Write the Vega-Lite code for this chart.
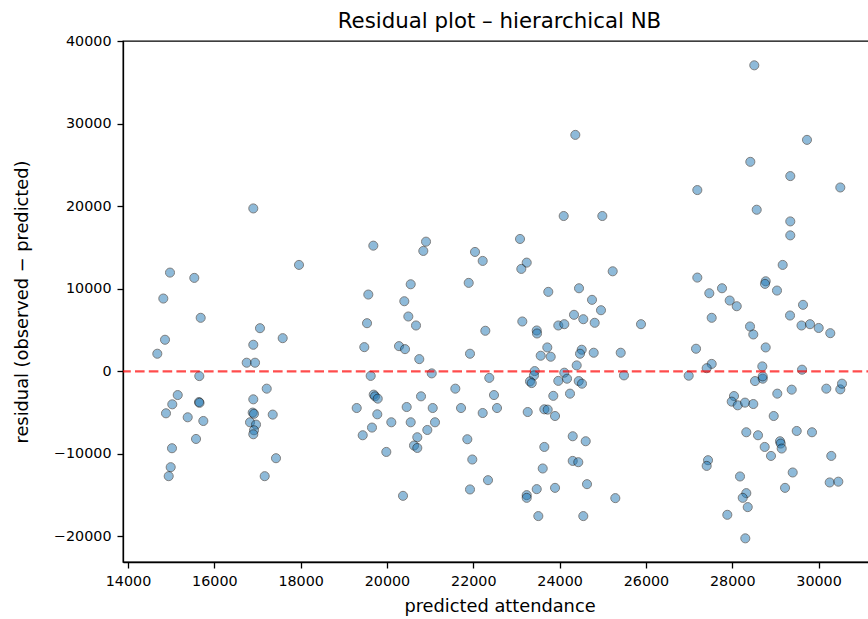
{
"$schema": "https://vega.github.io/schema/vega-lite/v6.json",
"autosize": {"type": "none"},
"padding": {"left": 123, "top": 41, "right": 0, "bottom": 57},
"width": 753,
"height": 521,
"title": {"text": "Residual plot – hierarchical NB"},
"datasets": {
"pts": [
{"predicted":16903,"residual":19759},{"predicted":14973,"residual":11979},{"predicted":15536,"residual":11338},{"predicted":17962,"residual":12911},{"predicted":14818,"residual":8833},{"predicted":15684,"residual":6498},{"predicted":17058,"residual":5239},{"predicted":14857,"residual":3836},{"predicted":17584,"residual":4029},{"predicted":16903,"residual":3231},{"predicted":14679,"residual":2142},{"predicted":16750,"residual":1053},{"predicted":16943,"residual":1053},{"predicted":15652,"residual":-569},{"predicted":17214,"residual":-2093},{"predicted":15152,"residual":-2868},{"predicted":16903,"residual":-3388},{"predicted":15026,"residual":-3993},{"predicted":15645,"residual":-3715},{"predicted":15657,"residual":-3812},{"predicted":14880,"residual":-5082},{"predicted":15383,"residual":-5566},{"predicted":15745,"residual":-6014},{"predicted":16889,"residual":-4997},{"predicted":16919,"residual":-5143},{"predicted":17353,"residual":-5239},{"predicted":16827,"residual":-6171},{"predicted":16966,"residual":-6449},{"predicted":16919,"residual":-7139},{"predicted":16903,"residual":-7623},{"predicted":15576,"residual":-8192},{"predicted":15019,"residual":-9317},{"predicted":17429,"residual":-10527},{"predicted":14989,"residual":-11616},{"predicted":14943,"residual":-12705},{"predicted":17167,"residual":-12705},
{"predicted":19684,"residual":15246},{"predicted":20905,"residual":15730},{"predicted":20842,"residual":14605},{"predicted":22040,"residual":14484},{"predicted":22218,"residual":13395},{"predicted":20550,"residual":10563},{"predicted":19568,"residual":9317},{"predicted":21894,"residual":10733},{"predicted":20402,"residual":8506},{"predicted":20495,"residual":6655},{"predicted":20673,"residual":5566},{"predicted":19538,"residual":5844},{"predicted":22279,"residual":4925},{"predicted":19475,"residual":2940},{"predicted":20279,"residual":3061},{"predicted":20418,"residual":2698},{"predicted":21924,"residual":2142},{"predicted":20749,"residual":1488},{"predicted":19623,"residual":-545},{"predicted":21037,"residual":-242},{"predicted":22371,"residual":-787},{"predicted":21584,"residual":-2093},{"predicted":22480,"residual":-2868},{"predicted":19693,"residual":-2819},{"predicted":19723,"residual":-3025},{"predicted":19786,"residual":-3303},{"predicted":20789,"residual":-3025},{"predicted":19299,"residual":-4441},{"predicted":20457,"residual":-4320},{"predicted":21060,"residual":-4441},{"predicted":21716,"residual":-4441},{"predicted":22218,"residual":-5046},{"predicted":22550,"residual":-4441},{"predicted":19776,"residual":-5203},{"predicted":20101,"residual":-6171},{"predicted":20550,"residual":-6171},{"predicted":21113,"residual":-6171},{"predicted":19653,"residual":-6812},{"predicted":20935,"residual":-7103},{"predicted":19438,"residual":-7744},{"predicted":20703,"residual":-7986},{"predicted":20627,"residual":-8990},{"predicted":20703,"residual":-9281},{"predicted":19985,"residual":-9765},{"predicted":21862,"residual":-8228},{"predicted":21977,"residual":-10684},{"predicted":22341,"residual":-13189},{"predicted":21924,"residual":-14314},{"predicted":20372,"residual":-15089},
{"predicted":24364,"residual":28677},{"predicted":24095,"residual":18840},{"predicted":24990,"residual":18840},{"predicted":23083,"residual":16057},{"predicted":23238,"residual":13189},{"predicted":23113,"residual":12427},{"predicted":25230,"residual":12136},{"predicted":23738,"residual":9644},{"predicted":24450,"residual":10079},{"predicted":24751,"residual":8676},{"predicted":24959,"residual":7417},{"predicted":23136,"residual":6050},{"predicted":24334,"residual":6861},{"predicted":24549,"residual":6328},{"predicted":24813,"residual":5893},{"predicted":23970,"residual":5566},{"predicted":24109,"residual":5723},{"predicted":25886,"residual":5723},{"predicted":23470,"residual":4961},{"predicted":23477,"residual":4598},{"predicted":23715,"residual":2904},{"predicted":23562,"residual":1900},{"predicted":23794,"residual":1779},{"predicted":24512,"residual":2626},{"predicted":24473,"residual":2142},{"predicted":24790,"residual":2263},{"predicted":25416,"residual":2263},{"predicted":27161,"residual":2747},{"predicted":24396,"residual":726},{"predicted":23423,"residual":36},{"predicted":23407,"residual":-484},{"predicted":23314,"residual":-1210},{"predicted":23354,"residual":-1416},{"predicted":24109,"residual":-157},{"predicted":24172,"residual":-883},{"predicted":23970,"residual":-1150},{"predicted":24443,"residual":-1174},{"predicted":24519,"residual":-1488},{"predicted":25492,"residual":-484},{"predicted":26991,"residual":-520},{"predicted":23854,"residual":-2965},{"predicted":24241,"residual":-2698},{"predicted":23261,"residual":-4925},{"predicted":23646,"residual":-4598},{"predicted":23724,"residual":-4634},{"predicted":23894,"residual":-5409},{"predicted":24304,"residual":-7865},{"predicted":24605,"residual":-8470},{"predicted":23646,"residual":-9160},{"predicted":24304,"residual":-10854},{"predicted":24433,"residual":-11011},{"predicted":23609,"residual":-11773},{"predicted":23470,"residual":-14278},{"predicted":23894,"residual":-14121},{"predicted":24635,"residual":-13673},{"predicted":25291,"residual":-15367},{"predicted":23238,"residual":-15004},{"predicted":23238,"residual":-15331},{"predicted":23507,"residual":-17545},{"predicted":24549,"residual":-17545},
{"predicted":27191,"residual":21986},{"predicted":27191,"residual":11374},{"predicted":28511,"residual":37111},{"predicted":29732,"residual":28072},{"predicted":28419,"residual":25410},{"predicted":29345,"residual":23680},{"predicted":30504,"residual":22300},{"predicted":28567,"residual":19602},{"predicted":29345,"residual":18186},{"predicted":29345,"residual":16492},{"predicted":29169,"residual":12911},{"predicted":27469,"residual":9474},{"predicted":27763,"residual":10079},{"predicted":27941,"residual":8591},{"predicted":28104,"residual":7901},{"predicted":28775,"residual":10926},{"predicted":28759,"residual":10612},{"predicted":29037,"residual":9801},{"predicted":27524,"residual":6498},{"predicted":28412,"residual":5445},{"predicted":28488,"residual":4477},{"predicted":29339,"residual":6776},{"predicted":29640,"residual":8071},{"predicted":29605,"residual":5566},{"predicted":29802,"residual":5723},{"predicted":30003,"residual":5264},{"predicted":30272,"residual":4634},{"predicted":28775,"residual":2904},{"predicted":27524,"residual":908},{"predicted":27408,"residual":387},{"predicted":28697,"residual":605},{"predicted":29617,"residual":206},{"predicted":28528,"residual":-1174},{"predicted":28706,"residual":-883},{"predicted":28706,"residual":-605},{"predicted":29044,"residual":-2698},{"predicted":29378,"residual":-2214},{"predicted":30180,"residual":-2093},{"predicted":30504,"residual":-2178},{"predicted":30543,"residual":-1488},{"predicted":28041,"residual":-2989},{"predicted":27988,"residual":-3666},{"predicted":28127,"residual":-4114},{"predicted":28296,"residual":-3787},{"predicted":28488,"residual":-3957},{"predicted":28961,"residual":-5409},{"predicted":28326,"residual":-7381},{"predicted":28597,"residual":-7744},{"predicted":29494,"residual":-7224},{"predicted":29848,"residual":-7381},{"predicted":29107,"residual":-8470},{"predicted":29123,"residual":-8748},{"predicted":29146,"residual":-9353},{"predicted":28752,"residual":-9160},{"predicted":28898,"residual":-10249},{"predicted":30295,"residual":-10249},{"predicted":27439,"residual":-10769},{"predicted":27408,"residual":-11459},{"predicted":28180,"residual":-12741},{"predicted":29401,"residual":-12257},{"predicted":29223,"residual":-14121},{"predicted":30258,"residual":-13467},{"predicted":30458,"residual":-13371},{"predicted":28326,"residual":-14762},{"predicted":28243,"residual":-15331},{"predicted":28359,"residual":-16456},{"predicted":27886,"residual":-17388},{"predicted":28303,"residual":-20243}
],
"zero": [{"residual": 0}]
},
"layer": [
{
"data": {"name": "pts"},
"mark": {"type": "point", "shape": "circle", "filled": true, "fill": "#1f77b4", "stroke": "#000", "strokeWidth": 1, "opacity": 0.5, "size": 82},
"encoding": {
"x": {"field": "predicted", "type": "quantitative", "title": "predicted attendance",
"scale": {"domain": [13884, 31331], "nice": false, "zero": false},
"axis": {"values": [14000,16000,18000,20000,22000,24000,26000,28000,30000], "format": "d", "titlePadding": 9}},
"y": {"field": "residual", "type": "quantitative", "title": "residual (observed − predicted)",
"scale": {"domain": [-23111, 40060], "nice": false, "zero": false},
"axis": {"values": [-20000,-10000,0,10000,20000,30000,40000], "format": "d", "labelExpr": "replace(datum.label, '-', '−')", "titlePadding": 22}}
}
},
{
"data": {"name": "zero"},
"mark": {"type": "rule", "color": "red", "opacity": 0.7, "strokeWidth": 2.4, "strokeDash": [9.6, 4.2]},
"encoding": {"y": {"field": "residual", "type": "quantitative"}}
}
],
"config": {
"font": "DejaVu Sans",
"view": {"stroke": "#000", "strokeWidth": 1.3},
"axis": {"grid": false, "domainColor": "#000", "domainWidth": 1.3, "tickColor": "#000", "tickWidth": 1.3, "tickSize": 6, "labelFontSize": 14.3, "labelColor": "#000", "labelPadding": 6, "labelFont": "DejaVu Sans", "titleFont": "DejaVu Sans", "titleFontSize": 17.8, "titleFontWeight": "normal", "titleColor": "#000"},
"title": {"fontSize": 21.3, "fontWeight": "normal", "color": "#000", "offset": 2, "font": "DejaVu Sans"}
}
}
